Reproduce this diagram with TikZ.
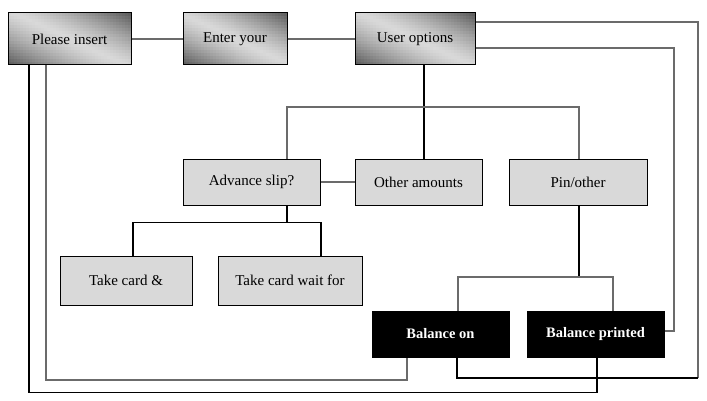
\documentclass[tikz,border=0pt]{standalone}
\usepackage{fontspec}
\setmainfont{Liberation Serif}
% #1 cx, #2 cy, #3 width, #4 height : diagonal grey gradient built from small cells
\newcommand{\gradcells}[4]{%
  \pgfmathsetmacro\gnx{int(round(#3/3))}%
  \pgfmathsetmacro\gny{int(round(#4/3))}%
  \pgfmathsetmacro\gcw{#3/\gnx}%
  \pgfmathsetmacro\gch{#4/\gny}%
  \pgfmathsetmacro\gtm{#3/2*cos(65)+#4/2*sin(65)}%
  \foreach \i in {1,...,\gnx} {
    \foreach \j in {1,...,\gny} {
      \pgfmathsetmacro\gdx{-#3/2+(\i-0.5)*\gcw}
      \pgfmathsetmacro\gdy{-#4/2+(\j-0.5)*\gch}
      \pgfmathsetmacro\gg{15+50*(abs(\gdx*cos(65)+\gdy*sin(65))/\gtm)^1.3}
      \fill[black!\gg] (#1+\gdx-\gcw/2,#2+\gdy-\gch/2) rectangle ++(\gcw+0.4,\gch+0.4);
    }
  }}
\begin{document}
\begin{tikzpicture}[x=1pt,y=1pt,
  every node/.style={font=\fontsize{15}{18}\selectfont},
  gradbox/.style={draw=black,line width=1pt,minimum height=52pt,inner sep=0pt},
  greybox/.style={draw=black,line width=1pt,fill=black!15,minimum height=46pt,inner sep=0pt},
  blackbox/.style={draw=black,line width=1pt,fill=black,text=white,font=\fontsize{14.5}{17}\selectfont\bfseries,minimum height=46pt,inner sep=0pt},
  gline/.style={draw=black!58,line width=1.3pt},
  kline/.style={draw=black,line width=1.2pt}]
\useasboundingbox (0,0) rectangle (707,400);
% gradient backgrounds of the top boxes
\gradcells{69.5}{361}{123}{52}
\gradcells{235}{361}{104}{52}
\gradcells{415}{361}{120}{52}
% nodes
\node[gradbox,minimum width=123pt] (ins) at (69.5,361) {Please insert};
\node[gradbox,minimum width=104pt] (ent) at (235,361) {Enter your};
\node[gradbox,minimum width=120pt] (uo) at (415,361) {User options};
\node[greybox,minimum width=137pt] (adv) at (251.5,218) {Advance slip?};
\node[greybox,minimum width=127pt] (oth) at (418.5,218) {Other amounts};
\node[greybox,minimum width=138pt] (pin) at (578,218) {Pin/other};
\node[greybox,minimum width=132pt,minimum height=49pt] (tc1) at (126,119.5) {Take card \&};
\node[greybox,minimum width=144pt,minimum height=49pt] (tc2) at (290,119.5) {Take card wait for};
\node[blackbox,minimum width=137pt] (bon) at (440.5,66) {Balance on};
\node[blackbox,minimum width=137pt] (bpr) at (595.5,66) {Balance printed};
% route points
\coordinate (r1) at (698,22);
\coordinate (r2) at (674,69);
\coordinate (bus) at (424,293);
\coordinate (j1) at (287,177.5);
\coordinate (j2) at (579,123);
\coordinate (j3) at (407,20);
\coordinate (j4) at (597,7.5);
% connectors
\draw[gline] (ins) -- (ent);
\draw[gline] (ent) -- (uo);
\draw[gline] ([yshift=17pt]uo.east) -| (r1);
\draw[kline] (r1) -| ([xshift=16.5pt]bon.south);
\draw[gline] ([yshift=-9pt]uo.east) -| (r2) -- ([yshift=3pt]bpr.east);
\draw[kline] ([xshift=9pt]uo.south) -- ([xshift=5.5pt]oth.north);
\draw[gline] ([xshift=35.5pt]adv.north) |- (bus) -| ([xshift=1pt]pin.north);
\draw[gline] (adv.east) -- (oth.west);
\draw[kline] ([xshift=35.5pt]adv.south) -- (j1);
\draw[kline] ([xshift=7pt]tc1.north) |- (j1) -| ([xshift=31pt]tc2.north);
\draw[kline] ([xshift=1pt]pin.south) -- (j2);
\draw[gline] ([xshift=17.5pt]bon.north) |- (j2) -| ([xshift=17.5pt]bpr.north);
\draw[gline] ([xshift=-23.5pt]ins.south) |- (j3) -- ([xshift=-33.5pt]bon.south);
\draw[kline] ([xshift=-40.5pt]ins.south) |- (j4) -- ([xshift=1.5pt]bpr.south);
\end{tikzpicture}
\end{document}
